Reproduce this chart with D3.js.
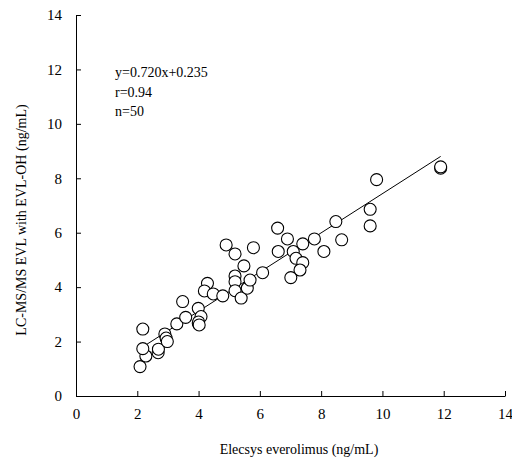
<!DOCTYPE html>
<html>
<head>
<meta charset="utf-8">
<script src="https://cdn.jsdelivr.net/npm/d3@7"></script>
<style>
  body { margin: 0; background: white; }
  svg text { font-family: "Liberation Serif", "Times New Roman", serif; fill: #000; }
</style>
</head>
<body>
<div id="chart"></div>
<script>
// readings of the scatter (Elecsys vs LC-MS/MS)
let elecsys = [2.09, 2.28, 2.18, 2.18, 2.68, 2.69, 2.90, 2.94, 2.98, 3.29,
    3.58, 3.48, 3.99, 3.99, 4.08, 4.00, 4.02, 4.29, 4.19, 4.48,
    4.79, 4.90, 5.19, 5.19, 5.19, 5.19, 5.39, 5.59, 5.68, 5.48,
    5.79, 6.09, 6.58, 6.90, 6.60, 7.09, 7.40, 7.18, 7.40, 7.31,
    7.01, 7.78, 8.09, 8.48, 8.67, 9.60, 9.60, 9.81, 11.90, 11.90];
let lcms = [1.08, 1.47, 1.74, 2.46, 1.59, 1.72, 2.28, 2.13, 2.00, 2.65,
    2.89, 3.47, 3.22, 2.67, 2.92, 2.72, 2.61, 4.14, 3.86, 3.75,
    3.68, 5.55, 5.22, 4.41, 4.20, 3.87, 3.60, 3.96, 4.26, 4.78,
    5.45, 4.53, 6.17, 5.77, 5.31, 5.31, 5.59, 5.06, 4.90, 4.63,
    4.35, 5.77, 5.31, 6.41, 5.74, 6.86, 6.25, 7.95, 8.37, 8.42];
let xTicks = [0, 2, 4, 6, 8, 10, 12, 14];
let yTicks = [0, 2, 4, 6, 8, 10, 12, 14];
let slope = 0.720, intercept = 0.235;
let statLines = ["y=0.720x+0.235", "r=0.94", "n=50"];

let svg = d3.select("#chart").append("svg")
    .attr("width", 512)
    .attr("height", 459);

let x = d3.scaleLinear().domain([0, 14]).range([76, 505]);
let y = d3.scaleLinear().domain([0, 14]).range([396, 15]);

let xAxis = svg.append("g")
    .attr("transform", "translate(0,396)")
    .call(d3.axisBottom(x).tickValues(xTicks).tickSizeInner(-5).tickSizeOuter(0).tickPadding(12));
let yAxis = svg.append("g")
    .attr("transform", "translate(76,0)")
    .call(d3.axisLeft(y).tickValues(yTicks).tickSizeInner(-5).tickSizeOuter(0).tickPadding(14));

[xAxis, yAxis].forEach(function(g) {
    g.selectAll("text").style("font-family", "Liberation Serif").style("font-size", "15px").attr("fill", "#000");
    g.selectAll("line, path").attr("stroke", "#000").attr("stroke-width", 1);
});

// regression line over the data range
let x0 = d3.min(elecsys), x1 = d3.max(elecsys);
svg.append("line")
    .attr("x1", x(x0)).attr("y1", y(slope * x0 + intercept))
    .attr("x2", x(x1)).attr("y2", y(slope * x1 + intercept))
    .attr("stroke", "#000").attr("stroke-width", 1);

let pts = elecsys.map(function(d, i) { return {x: d, y: lcms[i]}; });
svg.selectAll(".pt")
    .data(pts)
    .enter()
    .append("circle")
        .attr("class", "pt")
        .attr("cx", function(d) { return x(d.x); })
        .attr("cy", function(d) { return y(d.y); })
        .attr("r", 6)
        .attr("fill", "white")
        .attr("stroke", "#000")
        .attr("stroke-width", 1.1);

svg.selectAll(".stat")
    .data(statLines)
    .enter()
    .append("text")
        .attr("class", "stat")
        .attr("x", 115)
        .attr("y", function(d, i) { return 77 + i * 19.5; })
        .style("font-size", "14px")
        .text(function(d) { return d; });

svg.append("text")
    .attr("x", 299)
    .attr("y", 454)
    .attr("text-anchor", "middle")
    .style("font-size", "14px")
    .text("Elecsys everolimus (ng/mL)");

svg.append("text")
    .attr("transform", "translate(26,220) rotate(-90)")
    .attr("text-anchor", "middle")
    .style("font-size", "14px")
    .text("LC-MS/MS EVL with EVL-OH (ng/mL)");
</script>
</body>
</html>
